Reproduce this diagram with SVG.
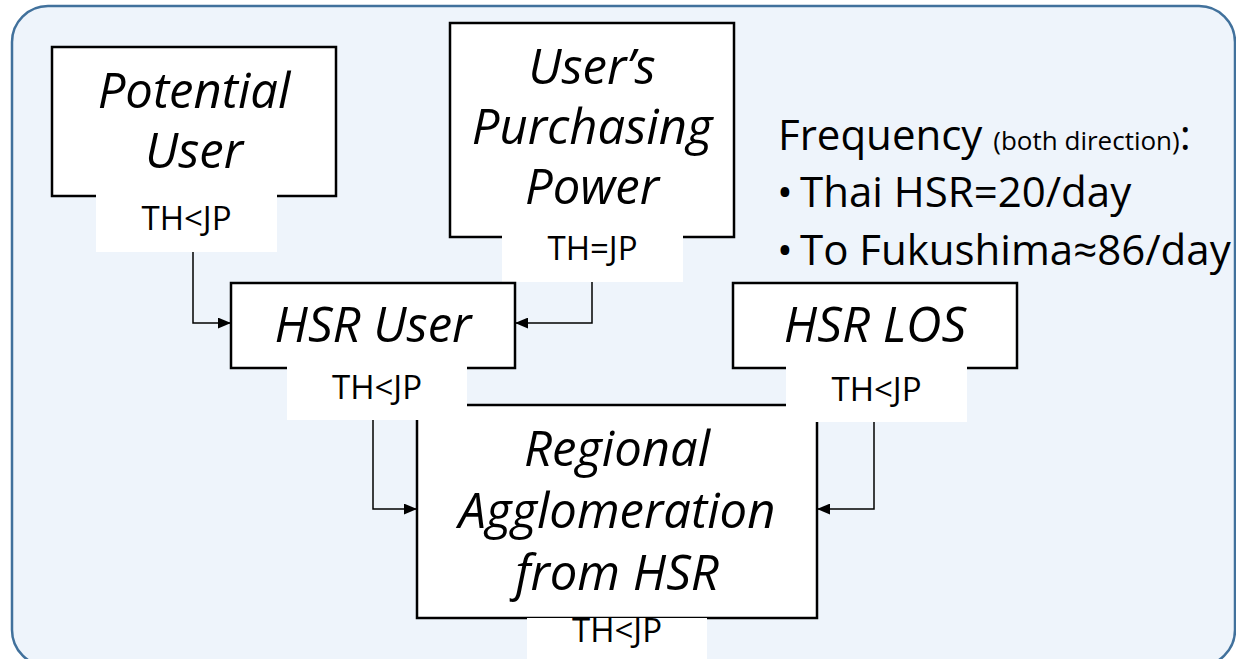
<svg xmlns="http://www.w3.org/2000/svg" width="1236" height="659" viewBox="0 0 1236 659">
  <defs>
    <marker id="arrow" viewBox="0 0 12 10" refX="12" refY="5" markerWidth="13" markerHeight="11" markerUnits="userSpaceOnUse" orient="auto">
      <path d="M0,0 L12,5 L0,10 Z" fill="#000"/>
    </marker>
    <style>
      .panel { fill: #EEF4FB; stroke: #41719C; stroke-width: 2.5; }
      .box { fill: #FFFFFF; stroke: #000; stroke-width: 2.5; }
      .tag { fill: #FFFFFF; stroke: none; }
      .title { font-family: "Open Sans", "Liberation Sans", sans-serif; font-style: italic; font-size: 49px; fill: #000; text-anchor: middle; }
      .lbl { font-family: "Open Sans", "Liberation Sans", sans-serif; font-size: 33px; fill: #000; text-anchor: middle; }
      .note { font-family: "Open Sans", "Liberation Sans", sans-serif; font-size: 42px; fill: #000; }
      .link { fill: none; stroke: #000; stroke-width: 1.5; marker-end: url(#arrow); }
    </style>
  </defs>

  <!-- background panel -->
  <rect class="panel" x="12" y="6" width="1223" height="660" rx="36" ry="36"/>

  <!-- outcome node -->
  <g id="regional-agglomeration">
    <rect class="box" x="417" y="405" width="400" height="213"/>
    <text class="title" x="617" y="466">Regional</text>
    <text class="title" x="617" y="528">Agglomeration</text>
    <text class="title" x="617" y="590">from HSR</text>
    <rect class="tag" x="527" y="618" width="180" height="45"/>
    <text class="lbl" x="617" y="642">TH&lt;JP</text>
  </g>

  <g id="potential-user">
    <rect class="box" x="52" y="47" width="284" height="149"/>
    <text class="title" x="194" y="108">Potential</text>
    <text class="title" x="194" y="168">User</text>
    <rect class="tag" x="96" y="194" width="181" height="58"/>
    <text class="lbl" x="186.5" y="230">TH&lt;JP</text>
  </g>

  <g id="purchasing-power">
    <rect class="box" x="450" y="23" width="284" height="214"/>
    <text class="title" x="592" y="84">User’s</text>
    <text class="title" x="592" y="144">Purchasing</text>
    <text class="title" x="592" y="204">Power</text>
    <rect class="tag" x="502" y="235" width="181" height="47"/>
    <text class="lbl" x="592.5" y="260">TH=JP</text>
  </g>

  <g id="hsr-user">
    <rect class="box" x="231" y="283" width="284" height="85"/>
    <text class="title" x="373" y="342">HSR User</text>
    <rect class="tag" x="287" y="366" width="180" height="54"/>
    <text class="lbl" x="377" y="399">TH&lt;JP</text>
  </g>

  <g id="hsr-los">
    <rect class="box" x="733" y="283" width="284" height="85"/>
    <text class="title" x="875" y="342">HSR LOS</text>
    <rect class="tag" x="786" y="366" width="181" height="56"/>
    <text class="lbl" x="876.5" y="401">TH&lt;JP</text>
  </g>

  <g id="frequency-note">
    <text class="note" x="778" y="150" font-size="40px">Frequency <tspan font-size="26px">(both direction)</tspan>:</text>
    <text class="note" x="777" y="207">•<tspan x="800">Thai HSR=20/day</tspan></text>
    <text class="note" x="777" y="265">•<tspan x="800">To Fukushima≈86/day</tspan></text>
  </g>

  <g id="connectors">
    <path class="link" d="M193,252 V323 H231"/>
    <path class="link" d="M592,282 V323 H515"/>
    <path class="link" d="M373,420 V509 H417"/>
    <path class="link" d="M874,422 V509 H817"/>
  </g>
</svg>
